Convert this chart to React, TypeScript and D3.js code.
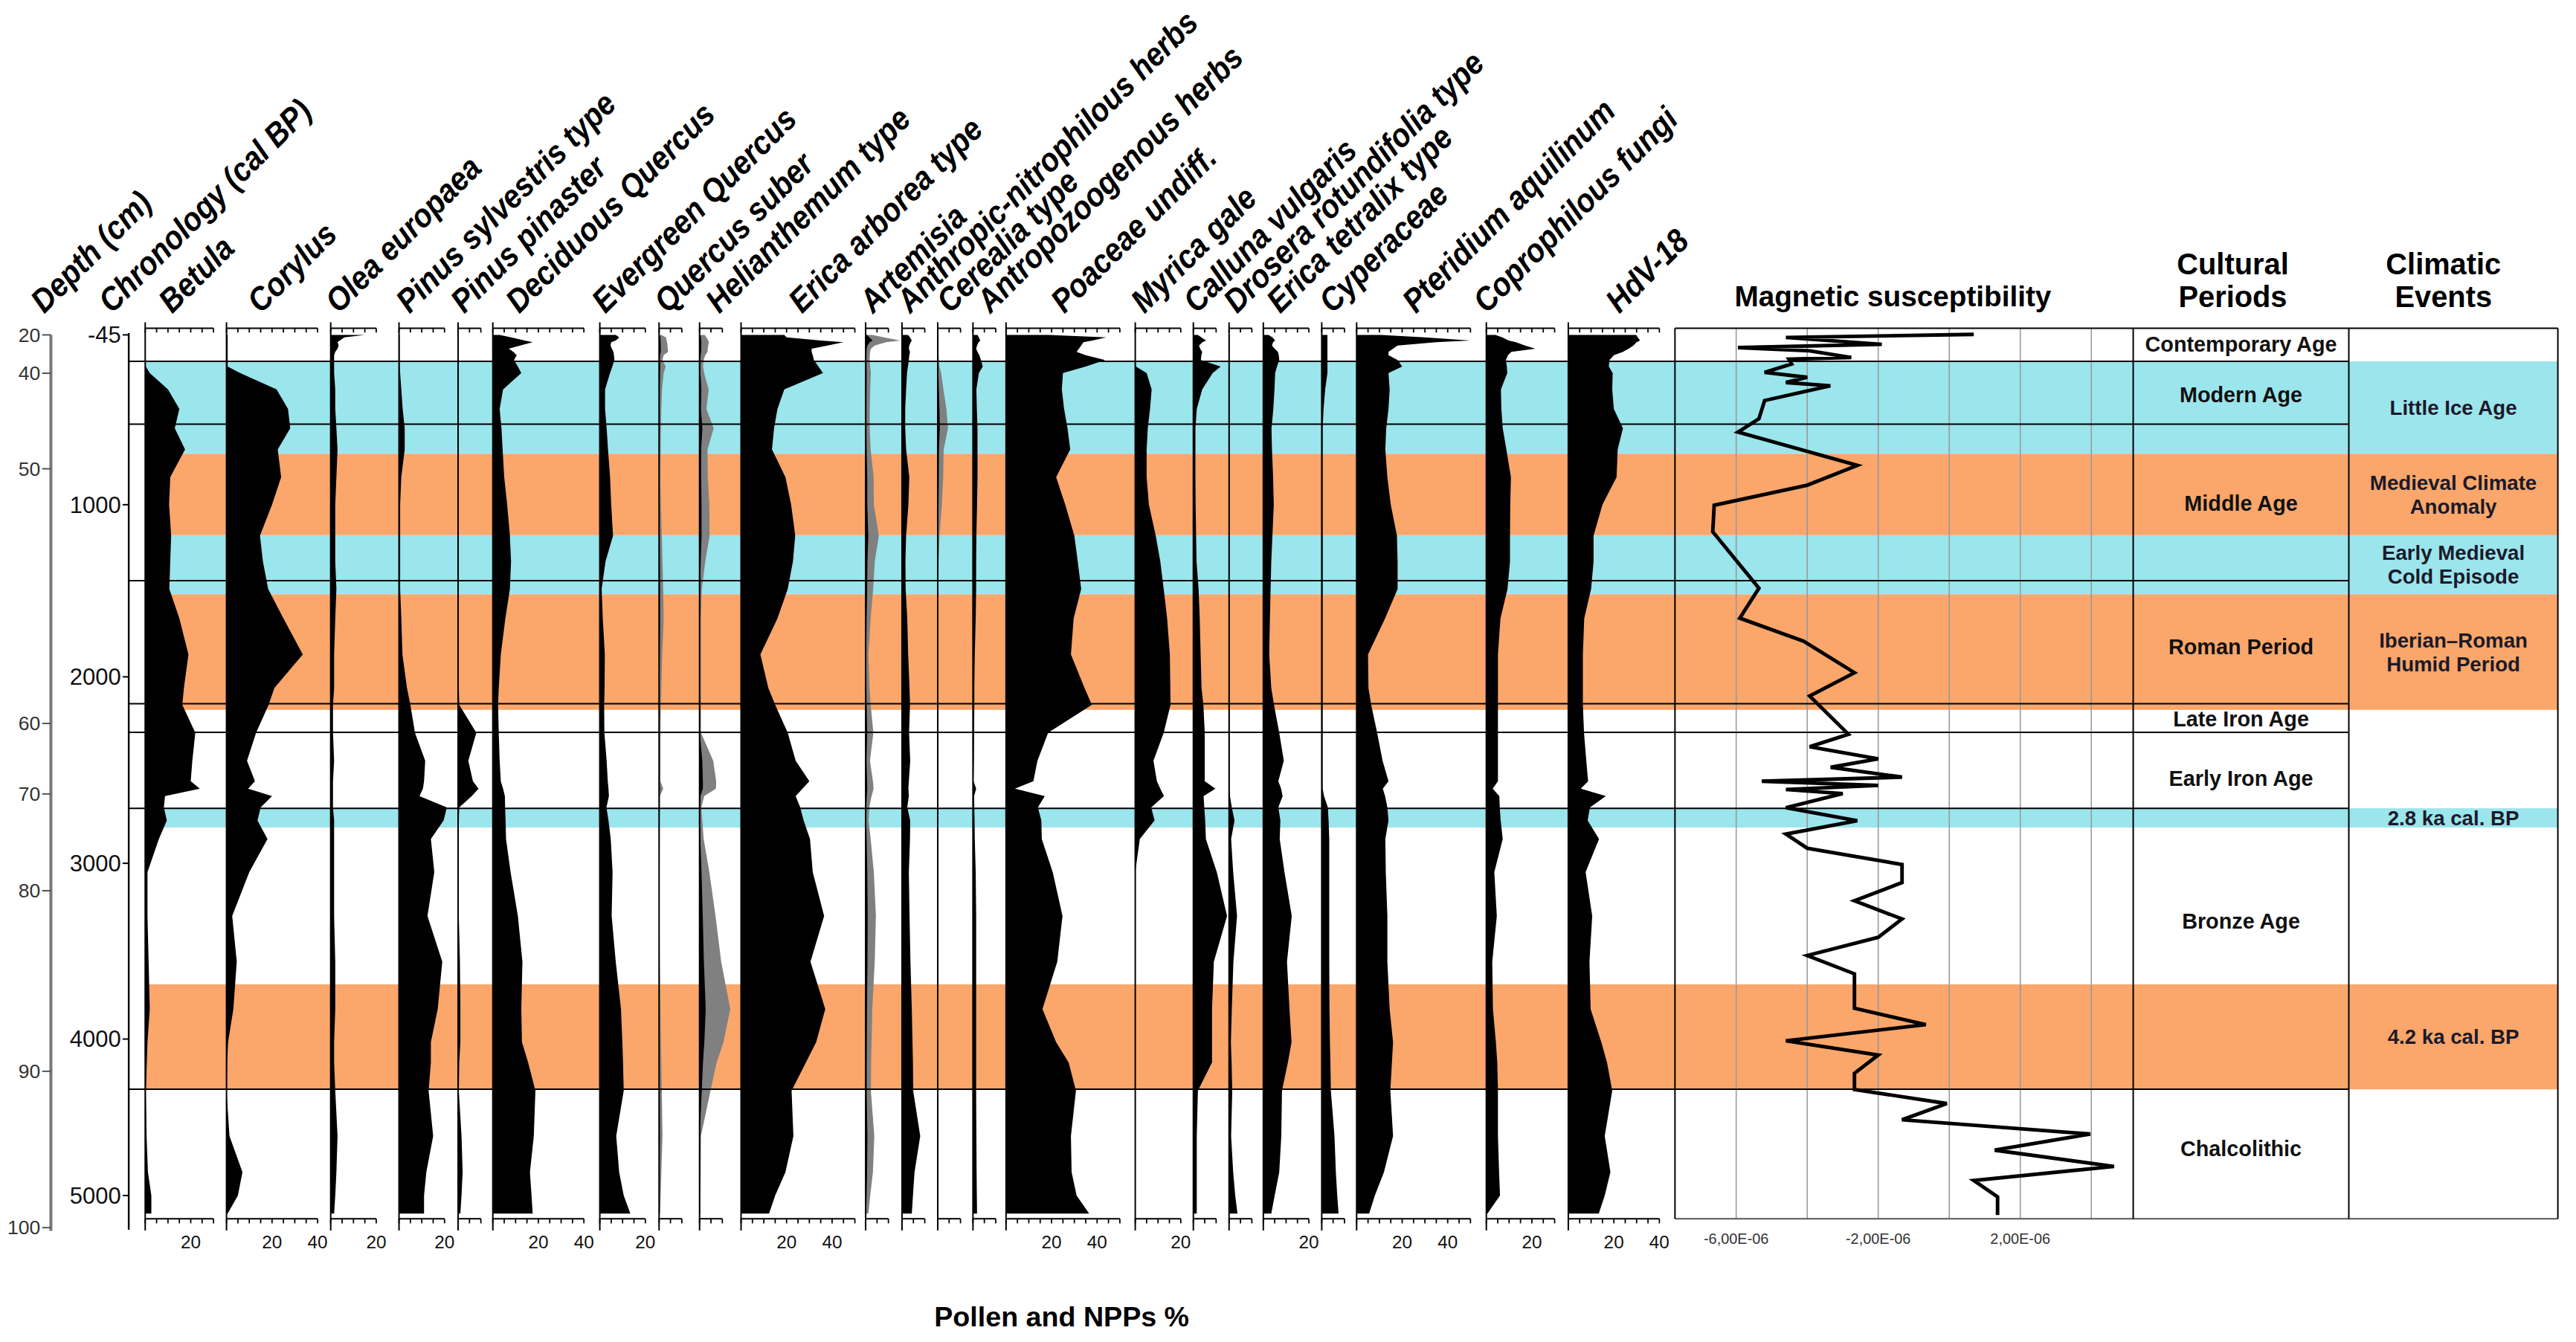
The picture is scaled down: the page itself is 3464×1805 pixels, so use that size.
import React from "react";
import * as d3 from "d3";

// sample ages (cal BP) shared by all pollen / NPP curves
const AGES = [-45, -30, -10, 0, 20, 40, 60, 80, 110, 150, 190, 290, 410, 530, 660, 830, 1000, 1180, 1330, 1490, 1660, 1870, 2060, 2150, 2300, 2450, 2560, 2600, 2640, 2700, 2770, 2870, 3050, 3300, 3560, 3830, 4020, 4150, 4330, 4620, 4850, 5000, 5115];

// percentages
const BETULA = [0, 0, 0, 0, 0, 0, 0, 0, 0, 0.3, 2, 10, 15, 13, 17.5, 11, 10.5, 11.4, 11, 10.6, 15, 19, 17, 16.3, 22, 20.7, 20, 24, 8.7, 8.2, 9.5, 6, 1, 1, 1.5, 2, 1, 0.7, 0.3, 0.6, 1.2, 2.7, 2.7];
const CORYLUS = [0.5, 0.5, 0.5, 0.5, 0.5, 0.5, 0.5, 0.5, 0.5, 0.5, 6, 22, 27, 28, 22.5, 24, 20, 14.7, 16, 18.3, 25, 33.5, 21, 18.5, 13, 9, 12.5, 9.5, 20, 15, 13.6, 18, 10, 2.5, 4.5, 3, 0.7, 0.3, 0, 1.3, 7, 5, 0.5];
const OLEA = [15, 6, 4, 3, 3.5, 3, 2, 1.5, 1.5, 1.5, 1.5, 2, 2, 2.5, 3, 2.5, 2, 2, 2, 2.5, 2, 1.5, 1.5, 1, 1, 1.5, 1, 1, 1, 1, 1.5, 1.5, 1.5, 1.5, 2, 2, 1.5, 1.5, 2, 3, 2.5, 2, 1.5];
const PINUS_SYLV = [0.3, 0.3, 0.3, 0.3, 0.3, 0.3, 0.3, 0.3, 0.3, 0.3, 0.5, 1, 1.6, 2.5, 2.5, 1, 0.5, 0.5, 0.5, 0.5, 1, 1.5, 3.5, 5, 7, 11.5, 11, 10.5, 9, 21, 19.6, 14, 15.5, 12.5, 19, 17, 14, 14, 13, 15, 12, 11, 11];
const PINUS_PIN = [0.3, 0.3, 0.3, 0.3, 0.3, 0.3, 0.3, 0.3, 0.3, 0.3, 0.3, 0.3, 0.3, 0.3, 0.3, 0.3, 0.3, 0.3, 0.3, 0.3, 0.3, 0.3, 0.3, 0.5, 8, 4.5, 6.5, 9, 6, 0.5, 0.3, 0.3, 0.3, 0.3, 0.8, 1, 1, 0.5, 0.3, 1.5, 2, 1.5, 1];
const QUERCUS_DEC = [3, 8, 14, 17.5, 12, 7, 9, 10.5, 9.3, 11, 12.5, 4.5, 3, 3.8, 4.3, 5, 6.3, 7.5, 8, 7.5, 5.5, 3.5, 2.6, 2.3, 2.6, 3, 3.5, 4.5, 5.3, 5.4, 5.6, 5.8, 7.8, 11, 13, 12.5, 12.8, 15.5, 18.7, 18, 16.3, 17, 17.5];
const QUERCUS_EVG = [7, 8.5, 7, 5, 4.7, 5.3, 6, 6.2, 6.4, 5.5, 4.5, 2.3, 2.3, 3, 3.6, 4.5, 5, 5.8, 2.5, 0.8, 1.3, 2.2, 2.1, 1.9, 2, 3, 3.5, 3.8, 4, 2.9, 3.8, 4.8, 5.6, 5.2, 7, 9.3, 9.9, 10.2, 10.5, 7.2, 8.5, 10.5, 13.4];
const QUERCUS_SUBER = [0.2, 0.6, 0.66, 0.7, 0.74, 0.76, 0.8, 0.4, 0.3, 0.58, 0.4, 0.26, 0.2, 0.16, 0.14, 0.12, 0.16, 0.24, 0.3, 0.36, 0.4, 0.28, 0.2, 0.16, 0.12, 0.12, 0.12, 0.36, 0.08, 0.08, 0.06, 0.06, 0.04, 0.04, 0.06, 0.12, 0.16, 0.2, 0.24, 0.3, 0.2, 0.14, 0.1];
const HELIANTHEMUM = [0.46, 0.6, 0.76, 0.82, 0.76, 0.72, 0.7, 0.5, 0.36, 0.3, 0.4, 0.8, 0.6, 1.24, 0.7, 0.72, 0.86, 0.88, 0.5, 0.2, 0.12, 0.12, 0.12, 0.12, 0.12, 1.2, 1.46, 1.44, 0.4, 0.16, 0.24, 0.36, 0.86, 1.4, 1.9, 2.7, 2.1, 1.5, 0.96, 0.12, 0.1, 0.08, 0.08];
const ERICA_ARB = [19, 20, 35, 45, 38, 31, 31, 31.5, 32, 34, 36, 19, 16, 14.5, 13.6, 19.5, 22, 23.8, 22.8, 20.5, 16, 8.5, 12, 15, 20.5, 24, 30, 27, 24, 26, 27.5, 30.3, 31.5, 36.5, 30.5, 37, 33, 28.5, 22.2, 23, 19.5, 15, 12.3];
const ARTEMISIA = [0.6, 1.6, 3.04, 1.8, 0.8, 0.46, 0.4, 0.36, 0.35, 0.4, 0.46, 0.4, 0.36, 0.35, 0.44, 0.7, 0.72, 1.16, 0.8, 0.66, 0.44, 0.24, 0.34, 0.44, 0.68, 0.38, 0.64, 0.7, 0.52, 0.32, 0.26, 0.44, 0.72, 0.9, 0.8, 0.58, 0.52, 0.48, 0.46, 0.76, 0.64, 0.4, 0.24];
const ANTHROPIC = [2.6, 3.5, 4.3, 3.8, 3.2, 3, 3.5, 3.2, 3, 2.6, 2.2, 1.8, 1.4, 1.4, 1.8, 3.2, 2.8, 1.8, 1.5, 1.6, 2.3, 2.7, 3.3, 3.5, 3.1, 3.6, 3, 2.8, 3, 2.3, 3.6, 3.5, 3, 3.3, 3.7, 4.3, 4.6, 4.8, 4.9, 8, 5.5, 4.8, 4.3];
const CEREALIA = [0.08, 0.08, 0.08, 0.08, 0.08, 0.08, 0.08, 0.08, 0.1, 0.16, 0.3, 0.5, 0.76, 0.9, 0.52, 0.48, 0.36, 0.16, 0.08, 0.06, 0.06, 0.06, 0.06, 0.06, 0.06, 0.06, 0.06, 0.06, 0.06, 0.06, 0.06, 0.06, 0.06, 0.06, 0.06, 0.06, 0.06, 0.06, 0.06, 0.06, 0.06, 0.06, 0.06];
const ANTROPOZOO = [2, 2.6, 3.2, 2.5, 1.8, 1.4, 2, 2.8, 3.5, 4.3, 2.6, 1.5, 1.7, 2, 2, 2, 1.8, 1.5, 1.4, 1.4, 1.2, 0.8, 0.6, 0.6, 0.5, 0.4, 0.25, 1.4, 0.5, 0.6, 0.7, 0.8, 1.2, 1.4, 1.4, 1.4, 1.4, 1.4, 1.4, 1.5, 1.6, 1.7, 1.8];
const POACEAE = [19, 44, 38, 34, 33, 32, 31, 35, 43.5, 35, 25, 24.5, 25.5, 27, 28.2, 22, 26, 30, 31.5, 33, 29.7, 28.5, 34.5, 37.7, 18.5, 13.8, 12, 3.9, 17, 14, 15.5, 15.7, 20.5, 24.8, 22.5, 16, 22, 27.5, 30.7, 28.5, 28.8, 31, 36.5];
const MYRICA = [0, 0, 0, 0, 0, 0, 0, 0, 0, 0.3, 5, 7.2, 6.5, 5.5, 5, 5, 6, 9, 11, 12.5, 14, 15.2, 15.4, 15.5, 12.5, 8, 9.5, 11, 12.6, 7, 8.5, 2, 0, 0, 0, 0, 0, 0, 0, 0, 0, 0, 0];
const CALLUNA = [2, 3.5, 5.6, 4, 2.5, 3, 3.9, 3.5, 3.3, 12, 8.5, 3.9, 1.5, 0.9, 0.9, 0.9, 1, 1.2, 1.4, 2.3, 2.8, 3.2, 3.6, 4.4, 5, 5, 5, 9.7, 4.5, 4.8, 5.2, 5.5, 10.3, 14.8, 9, 8.2, 8.2, 8.2, 2, 1.5, 1.5, 1.5, 1.5];
const DROSERA = [0.2, 0.2, 0.2, 0.2, 0.2, 0.2, 0.2, 0.2, 0.2, 0.2, 0.2, 0.2, 0.2, 0.2, 0.2, 0.2, 0.2, 0.2, 0.2, 0.2, 0.2, 0.2, 0.2, 0.2, 0.2, 0.2, 0.2, 0.2, 0.4, 1.2, 2.4, 0.9, 1.8, 3.5, 1.9, 1.2, 0.8, 1.1, 1.4, 0.9, 1.8, 2.7, 3.7];
const ERICA_TET = [2.3, 4, 5.2, 4.3, 3.8, 5, 6.4, 6.8, 7, 6, 5.2, 4.9, 4.4, 3.6, 3.8, 4.3, 4.6, 4, 3.5, 3.2, 2.9, 2.6, 3.5, 4.7, 7, 9, 6.6, 7.8, 8.5, 6.6, 7.5, 7.2, 9.3, 12.5, 10.4, 11.5, 12.4, 10.8, 8.2, 7.9, 7, 5, 3.5];
const CYPERACEAE = [2.5, 2.5, 2.5, 2.5, 2.5, 2.5, 2.5, 2.5, 2.5, 2.5, 2.5, 1.5, 0.8, 0.4, 0.4, 0.4, 0.4, 0.4, 0.4, 0.4, 0.4, 0.4, 0.4, 0.4, 0.4, 0.4, 0.4, 0.4, 1, 2.7, 3, 3.3, 3.3, 3.3, 3.3, 3.4, 3.6, 3.8, 4, 5.6, 6.2, 6.8, 7.4];
const PTERIDIUM = [10.7, 30, 50, 35, 18, 16, 14, 14, 18, 20, 14, 14.5, 14, 13, 12.6, 13.5, 15, 17.7, 18, 18, 12.5, 5, 5.2, 6.4, 9, 11.4, 14, 11.5, 12.5, 13.5, 14, 12.6, 12.8, 13.5, 13.5, 14.5, 16, 15.5, 14.8, 16, 12, 8, 5.5];
const COPROPHILOUS = [4, 7, 9.8, 13, 17, 21.5, 11, 9.5, 8.6, 9, 9.2, 6.4, 6.6, 7.2, 8.8, 10.8, 10.5, 10.4, 10.4, 9.3, 6.2, 5.1, 5.1, 5.1, 5.1, 5.1, 5.1, 2.8, 5.7, 5.9, 6.3, 7.2, 3.5, 4.6, 2.6, 2.9, 4.2, 4.8, 5.1, 5.1, 5.6, 6, 0.5];
const HDV18 = [29.8, 30.5, 31.5, 30, 28.6, 26.5, 24, 20, 18.1, 17.8, 19.5, 19.3, 20, 24, 21.7, 21.2, 15, 11.1, 11.1, 10, 7, 6.4, 6.4, 6.4, 6.9, 7.9, 8.7, 5.5, 16.5, 9.5, 8.5, 13.5, 7.6, 10.5, 9.3, 9.8, 14.5, 17, 19.3, 16, 18.5, 16, 13.4];

const TAXA_NAMES = ["Betula", "Corylus", "Olea europaea", "Pinus sylvestris type", "Pinus pinaster", "Deciduous Quercus", "Evergreen Quercus", "Quercus suber", "Helianthemum type", "Erica arborea type", "Artemisia", "Anthropic-nitrophilous herbs", "Cerealia type", "Antropozoogenous herbs", "Poaceae undiff.", "Myrica gale", "Calluna vulgaris", "Drosera rotundifolia type", "Erica tetralix type", "Cyperaceae", "Pteridium aquilinum", "Coprophilous fungi", "HdV-18"];
const TAXA_VALUES = [BETULA, CORYLUS, OLEA, PINUS_SYLV, PINUS_PIN, QUERCUS_DEC, QUERCUS_EVG, QUERCUS_SUBER, HELIANTHEMUM, ERICA_ARB, ARTEMISIA, ANTHROPIC, CEREALIA, ANTROPOZOO, POACEAE, MYRICA, CALLUNA, DROSERA, ERICA_TET, CYPERACEAE, PTERIDIUM, COPROPHILOUS, HDV18];
const TAXA_MAX = [30, 40, 20, 20, 10, 40, 20, 10, 10, 50, 10, 10, 10, 10, 50, 20, 10, 10, 20, 10, 50, 30, 40];
const EXAGGERATED = ["Quercus suber", "Helianthemum type", "Artemisia", "Cerealia type"];
const EXAG = 5;
const AXIS_LABELS = [20, 40];

// magnetic susceptibility (x 1E-06)
const MAG_AGE = [-48, -29, 13, 33, 53, 94, 104, 134, 186, 216, 248, 268, 359, 471, 553, 758, 880, 1003, 1157, 1485, 1659, 1793, 1976, 2103, 2308, 2375, 2440, 2485, 2538, 2560, 2582, 2604, 2626, 2702, 2772, 2843, 2919, 3007, 3110, 3213, 3317, 3421, 3525, 3629, 3825, 3918, 4011, 4102, 4219, 4322, 4412, 4516, 4607, 4710, 4814, 4904, 5008, 5125];
const MAG_VAL = [0.69, -4.6, -1.9, -5.95, -3.93, -2.76, -4.52, -4.44, -5.2, -4.0, -4.6, -3.35, -5.2, -5.36, -5.95, -2.59, -4.0, -6.62, -6.66, -5.36, -5.9, -4.1, -2.67, -3.93, -2.84, -3.93, -2.0, -3.34, -1.33, -5.28, -2.0, -4.6, -3.0, -4.6, -2.59, -4.6, -4.0, -1.33, -1.33, -2.67, -1.33, -2.0, -4.0, -2.67, -2.67, -0.66, -4.6, -2.0, -2.67, -2.67, -0.07, -1.33, 3.97, 1.28, 4.64, 0.69, 1.36, 1.36];
const MAG_GRID = [-6, -4, -2, 0, 2, 4];
const MAG_LABELS = [-6, -2, 2];

// axes
const CHRON_TICKS = [-45, 1000, 2000, 3000, 4000, 5000];
const DEPTHS = [20, 40, 50, 60, 70, 80, 90, 100];
const DEPTH_AGE = [-45, 191, 779, 2250, 2628, 3156, 4206, 5205];

// periods
const CULTURE = ["Contemporary Age", "Modern Age", "Middle Age", "Roman Period", "Late Iron Age", "Early Iron Age", "Bronze Age", "Chalcolithic"];
const CULTURE_BOUNDS = [118, 504, 1441, 2144, 2298, 2705, 4321];
const CULTURE_LABEL_AGE = [11, 325, 993, 1825, 2227, 2545, 3331, 4700];
const CLIMATE = ["Little Ice Age", "Medieval Climate|Anomaly", "Early Medieval|Cold Episode", "Iberian\u2013Roman|Humid Period", "2.8 ka cal. BP", "4.2 ka cal. BP"];
const CLIMATE_FROM = [118, 687, 1177, 1521, 2705, 3689];
const CLIMATE_TO = [687, 1177, 1521, 2177, 2808, 4321];
const CLIMATE_KIND = ["cold", "warm", "cold", "warm", "cold", "warm"];

// layout (viewBox units)
const W = 1565;
const H = 815.5;
const PX_PER_PCT = 1.383;
const PANEL_X = [88.2, 137.6, 200.9, 242.4, 278.3, 299.4, 364.4, 400.4, 425, 450.2, 525.9, 548, 569.7, 591.1, 611.2, 689.7, 725, 746.7, 767.5, 803, 824.2, 903, 952.8];
const LABEL_DX = [16.4, 20.9, 5, 6.4, 3.7, 16, 3.3, 5.3, 12, 37, 4.5, 5, 7.6, 10.6, 35.4, 5.6, 2.2, 4.8, 10.2, 6.6, 36, 0.2, 31];
const CHRON_Y = [203.5, 306.7, 411.3, 524.6, 631.4, 726.5];
const TOP_AXIS = 199.5;
const BOT_AXIS = 740.6;
const MAG_LEFT = 1017.6;
const CULT_LEFT = 1296;
const CLIM_LEFT = 1427;
const RIGHT = 1554;
const FONT = "'Liberation Sans', Arial, sans-serif";
const COLD = "#9be5ec";
const WARM = "#fba66a";
const HEAD = "rotate(-45) scale(0.9,1)";

const App = () => {
  const y = d3.scaleLinear().domain(CHRON_TICKS).range(CHRON_Y);
  const magX = d3.scaleLinear().domain([-6, 2]).range([1054.8, 1227.4]);
  const magLine = d3
    .line<number>()
    .x((v) => magX(v))
    .y((_, i) => y(MAG_AGE[i]));
  const fmtMag = (v: number) => `${v.toFixed(2).replace(".", ",")}E-06`;

  return (
    <svg
      width={3464}
      height={1805}
      viewBox={`0 0 ${W} ${H}`}
      style={{ position: "absolute", left: 0, top: 0, background: "#fff" }}
      fontFamily={FONT}
    >
      <rect x={0} y={0} width={W} height={H} fill="#fff" />

      {/* climatic bands */}
      {CLIMATE.map((c, i) => (
        <rect
          key={c}
          x={PANEL_X[0]}
          y={y(CLIMATE_FROM[i])}
          width={RIGHT - PANEL_X[0]}
          height={y(CLIMATE_TO[i]) - y(CLIMATE_FROM[i])}
          fill={CLIMATE_KIND[i] === "cold" ? COLD : WARM}
        />
      ))}

      {/* magnetic susceptibility grid */}
      {MAG_GRID.map((t) => (
        <line key={t} x1={magX(t)} x2={magX(t)} y1={TOP_AXIS} y2={BOT_AXIS} stroke="#999" strokeWidth={0.7} />
      ))}

      {/* pollen panels */}
      {TAXA_NAMES.map((name, i) => {
        const max = TAXA_MAX[i];
        const left = PANEL_X[i];
        const x = d3.scaleLinear().domain([0, max]).range([left, left + max * PX_PER_PCT]);
        const vals = TAXA_VALUES[i];
        const area = (k: number) =>
          d3
            .area<number>()
            .x0(left)
            .x1((v) => x(v * k))
            .y((_, j) => y(AGES[j]))(vals) as string;
        const ticks = d3.range(0, max + 0.01, 5);
        return (
          <g key={name}>
            {EXAGGERATED.includes(name) && <path d={area(EXAG)} fill="#808080" />}
            <path d={area(1)} fill="#000" />
            <line x1={left} x2={left} y1={195.8} y2={747.7} stroke="#000" strokeWidth={0.9} />
            <line x1={left} x2={x(max)} y1={TOP_AXIS} y2={TOP_AXIS} stroke="#000" strokeWidth={0.9} />
            <line x1={left} x2={x(max)} y1={BOT_AXIS} y2={BOT_AXIS} stroke="#000" strokeWidth={0.9} />
            {ticks.map((t) => (
              <g key={t}>
                <line x1={x(t)} x2={x(t)} y1={TOP_AXIS} y2={TOP_AXIS + 2.6} stroke="#000" strokeWidth={0.8} />
                <line x1={x(t)} x2={x(t)} y1={BOT_AXIS} y2={BOT_AXIS + 2.8} stroke="#000" strokeWidth={0.8} />
              </g>
            ))}
            {AXIS_LABELS.filter((t) => t <= max).map((t) => (
              <text key={t} x={x(t)} y={758.5} fontSize={11} textAnchor="middle" fill="#111">
                {t}
              </text>
            ))}
            <text
              transform={`translate(${left + LABEL_DX[i]},191) ${HEAD}`}
              fontSize={20}
              fontWeight="bold"
              fontStyle="italic"
            >
              {name}
            </text>
          </g>
        );
      })}

      {/* period boundaries */}
      {CULTURE_BOUNDS.map((a) => (
        <line key={a} x1={78.2} x2={CLIM_LEFT} y1={y(a)} y2={y(a)} stroke="#000" strokeWidth={0.9} />
      ))}

      {/* magnetic susceptibility curve */}
      <path d={magLine(MAG_VAL) as string} fill="none" stroke="#000" strokeWidth={2.2} strokeLinejoin="miter" />

      {/* frames of right-hand block */}
      <line x1={MAG_LEFT} x2={RIGHT} y1={TOP_AXIS} y2={TOP_AXIS} stroke="#000" strokeWidth={0.9} />
      <line x1={MAG_LEFT} x2={RIGHT} y1={BOT_AXIS} y2={BOT_AXIS} stroke="#555" strokeWidth={0.9} />
      {[MAG_LEFT, CULT_LEFT, CLIM_LEFT, RIGHT].map((xx) => (
        <line key={xx} x1={xx} x2={xx} y1={TOP_AXIS} y2={BOT_AXIS} stroke="#000" strokeWidth={0.9} />
      ))}
      {MAG_LABELS.map((t) => (
        <text key={t} x={magX(t)} y={756} fontSize={9} textAnchor="middle" fill="#333">
          {fmtMag(t)}
        </text>
      ))}

      {/* cultural periods */}
      {CULTURE.map((c, i) => (
        <text
          key={c}
          x={(CULT_LEFT + CLIM_LEFT) / 2}
          y={y(CULTURE_LABEL_AGE[i])}
          dy="0.35em"
          fontSize={13}
          fontWeight="bold"
          textAnchor="middle"
          fill="#111"
        >
          {c}
        </text>
      ))}

      {/* climatic events */}
      {CLIMATE.map((c, i) => {
        const lines = c.split("|");
        const cy = (y(CLIMATE_FROM[i]) + y(CLIMATE_TO[i])) / 2;
        return (
          <text
            key={c}
            x={(CLIM_LEFT + RIGHT) / 2}
            y={cy - ((lines.length - 1) * 14.5) / 2}
            fontSize={12.5}
            fontWeight="bold"
            textAnchor="middle"
            fill="#1a1a2a"
          >
            {lines.map((l, k) => (
              <tspan key={l} x={(CLIM_LEFT + RIGHT) / 2} dy={k === 0 ? "0.35em" : 14.5}>
                {l}
              </tspan>
            ))}
          </text>
        );
      })}

      {/* depth axis */}
      <line x1={30.9} x2={30.9} y1={y(DEPTH_AGE[0])} y2={y(DEPTH_AGE[DEPTH_AGE.length - 1]) + 2} stroke="#777" strokeWidth={1.8} />
      {DEPTHS.map((d, i) => (
        <g key={d}>
          <line x1={25.6} x2={30.9} y1={y(DEPTH_AGE[i])} y2={y(DEPTH_AGE[i])} stroke="#555" strokeWidth={0.9} />
          <text x={24.5} y={y(DEPTH_AGE[i])} dy="0.35em" fontSize={12} textAnchor="end" fill="#333">
            {d}
          </text>
        </g>
      ))}

      {/* chronology axis */}
      <line x1={78.2} x2={78.2} y1={202.4} y2={747.3} stroke="#000" strokeWidth={1.1} />
      {CHRON_TICKS.map((t) => (
        <g key={t}>
          <line x1={74.5} x2={78.2} y1={y(t)} y2={y(t)} stroke="#000" strokeWidth={0.9} />
          <text x={73.5} y={y(t)} dy="0.35em" fontSize={14} textAnchor="end" fill="#111">
            {t}
          </text>
        </g>
      ))}

      {/* header labels */}
      <text transform={`translate(26.9,191) ${HEAD}`} fontSize={20} fontWeight="bold" fontStyle="italic">
        Depth (cm)
      </text>
      <text transform={`translate(68.1,191) ${HEAD}`} fontSize={20} fontWeight="bold" fontStyle="italic">
        Chronology (cal BP)
      </text>
      <text x={1150} y={186} fontSize={17.5} fontWeight="bold" textAnchor="middle">
        Magnetic susceptibility
      </text>
      <text x={CULT_LEFT + (CLIM_LEFT - CULT_LEFT) / 2 - 5} y={166.5} fontSize={18} fontWeight="bold" textAnchor="middle">
        Cultural
      </text>
      <text x={CULT_LEFT + (CLIM_LEFT - CULT_LEFT) / 2 - 5} y={186.5} fontSize={18} fontWeight="bold" textAnchor="middle">
        Periods
      </text>
      <text x={CLIM_LEFT + (RIGHT - CLIM_LEFT) / 2 - 6} y={166.5} fontSize={18} fontWeight="bold" textAnchor="middle">
        Climatic
      </text>
      <text x={CLIM_LEFT + (RIGHT - CLIM_LEFT) / 2 - 6} y={186.5} fontSize={18} fontWeight="bold" textAnchor="middle">
        Events
      </text>
      <text x={645} y={806} fontSize={17} fontWeight="bold" textAnchor="middle">
        Pollen and NPPs %
      </text>
    </svg>
  );
};

export default App;
